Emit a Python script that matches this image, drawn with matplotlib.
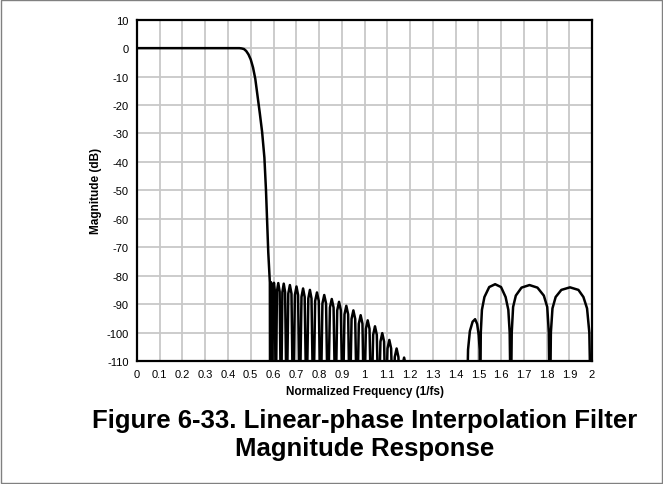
import matplotlib
matplotlib.use("Agg")
import matplotlib.pyplot as plt
from matplotlib.patches import Rectangle

plt.rcParams['font.family'] = ['Liberation Sans', 'DejaVu Sans']
plt.rcParams['axes.unicode_minus'] = False

# Values (normalized frequency, dB)
# passband and transition band
pass_f = [0.0, 0.1, 0.2, 0.3, 0.4, 0.45, 0.46, 0.47, 0.48, 0.49, 0.50,
          0.51, 0.52, 0.53, 0.54, 0.55, 0.56, 0.567, 0.577, 0.584, 0.585]
pass_db = [0, 0, 0, 0, 0, 0, -0.1, -0.3, -1.0, -2.2, -4.0,
           -6.8, -10.8, -16.8, -23.0, -29.5, -38.5, -50, -71.8, -82.4, -130]

# first stopband: shoulder, peak, shoulder, null ... per lobe
stop1_f = [0.587, 0.589, 0.591, 0.594,
           0.598, 0.602, 0.606, 0.610,
           0.615, 0.621, 0.627, 0.633,
           0.639, 0.645, 0.651, 0.658,
           0.665, 0.672, 0.679, 0.686,
           0.694, 0.701, 0.708, 0.715,
           0.723, 0.730, 0.737, 0.745,
           0.753, 0.760, 0.767, 0.775,
           0.783, 0.791, 0.799, 0.807,
           0.815, 0.823, 0.831, 0.839,
           0.848, 0.856, 0.864, 0.872,
           0.880, 0.888, 0.896, 0.904,
           0.912, 0.920, 0.928, 0.935,
           0.943, 0.951, 0.959, 0.967,
           0.975, 0.983, 0.991, 0.998,
           1.006, 1.014, 1.022, 1.030,
           1.038, 1.046, 1.054, 1.062,
           1.070, 1.078, 1.086, 1.093,
           1.101, 1.109, 1.117, 1.125,
           1.133, 1.141, 1.149, 1.157,
           1.166, 1.174, 1.182, 1.190,
           1.300, 1.449]
stop1_db = [-85.3, -82.3, -85.3, -130,
            -85.5, -82.5, -85.5, -130,
            -85.6, -82.6, -85.6, -130,
            -85.8, -82.8, -85.8, -130,
            -86.3, -83.3, -86.3, -130,
            -86.8, -83.8, -86.8, -130,
            -87.5, -84.5, -87.5, -130,
            -88.0, -85.0, -88.0, -130,
            -88.9, -85.9, -88.9, -130,
            -89.8, -86.8, -89.8, -130,
            -91.2, -88.2, -91.2, -130,
            -92.2, -89.2, -92.2, -130,
            -93.6, -90.6, -93.6, -130,
            -95.2, -92.2, -95.2, -130,
            -96.9, -93.9, -96.9, -130,
            -98.7, -95.7, -98.7, -130,
            -100.8, -97.8, -100.8, -130,
            -103.2, -100.2, -103.2, -130,
            -105.6, -102.6, -105.6, -130,
            -108.6, -105.6, -108.6, -130,
            -111.8, -108.8, -111.8, -130,
            -130, -130]

# image lobes near 1.5 - 2.0
stop2_f = [1.455, 1.463, 1.475, 1.486, 1.495, 1.502, 1.506, 1.508,
           1.511, 1.516, 1.527, 1.548, 1.574, 1.600, 1.620, 1.632, 1.638, 1.643,
           1.647, 1.653, 1.665, 1.690, 1.725, 1.760, 1.788, 1.803, 1.810, 1.815,
           1.819, 1.826, 1.840, 1.865, 1.903, 1.940, 1.962, 1.978, 1.988, 1.995, 2.0]
stop2_db = [-106, -99.5, -96.2, -95.3, -97, -101, -106, -130,
            -100, -92, -87.5, -84, -83.0, -84, -87.5, -92, -100, -130,
            -100, -91, -87, -84.2, -83.3, -84.2, -87, -91, -100, -130,
            -100, -91.5, -87.5, -85, -84.1, -85, -87.5, -91.5, -100, -130, -130]

freq = pass_f + stop1_f + stop2_f
mag = pass_db + stop1_db + stop2_db

xticks = [i / 10 for i in range(21)]
xlabels = ['0', '0.1', '0.2', '0.3', '0.4', '0.5', '0.6', '0.7', '0.8', '0.9', '1',
           '1.1', '1.2', '1.3', '1.4', '1.5', '1.6', '1.7', '1.8', '1.9', '2']
yticks = list(range(-110, 11, 10))

fig = plt.figure(figsize=(6.63, 4.85), dpi=100)
ax = fig.add_axes([0.2066, 0.2536, 0.6864, 0.7037])

ax.plot(freq, mag, color='black', linewidth=1.8, solid_joinstyle='round')

ax.set_xlim(0, 2)
ax.set_ylim(-110, 10)
ax.set_xticks(xticks)
ax.set_xticklabels(xlabels)
ax.set_yticks(yticks)
ax.tick_params(length=0, labelsize=8, pad=6)
ax.grid(True, color='#c8c8c8', linewidth=1.3)
ax.set_axisbelow(True)
for s in ax.spines.values():
    s.set_linewidth(1.6)

ax.set_xlabel('Normalized Frequency (1/fs)', fontsize=8.5, weight='bold', labelpad=4)
ax.set_ylabel('Magnitude (dB)', fontsize=8.5, weight='bold', labelpad=3)

fig.text(0.5498, 1 - 421 / 485, 'Figure 6-33. Linear-phase Interpolation Filter',
         fontsize=18.5, weight='bold', ha='center', va='center')
fig.text(0.5498, 1 - 449 / 485, 'Magnitude Response',
         fontsize=18.5, weight='bold', ha='center', va='center')

fig.patches.append(Rectangle((0.001, 0.003), 0.997, 0.994, transform=fig.transFigure,
                             fill=False, edgecolor='#808080', linewidth=1.0))

fig.savefig('out.png', dpi=100)
